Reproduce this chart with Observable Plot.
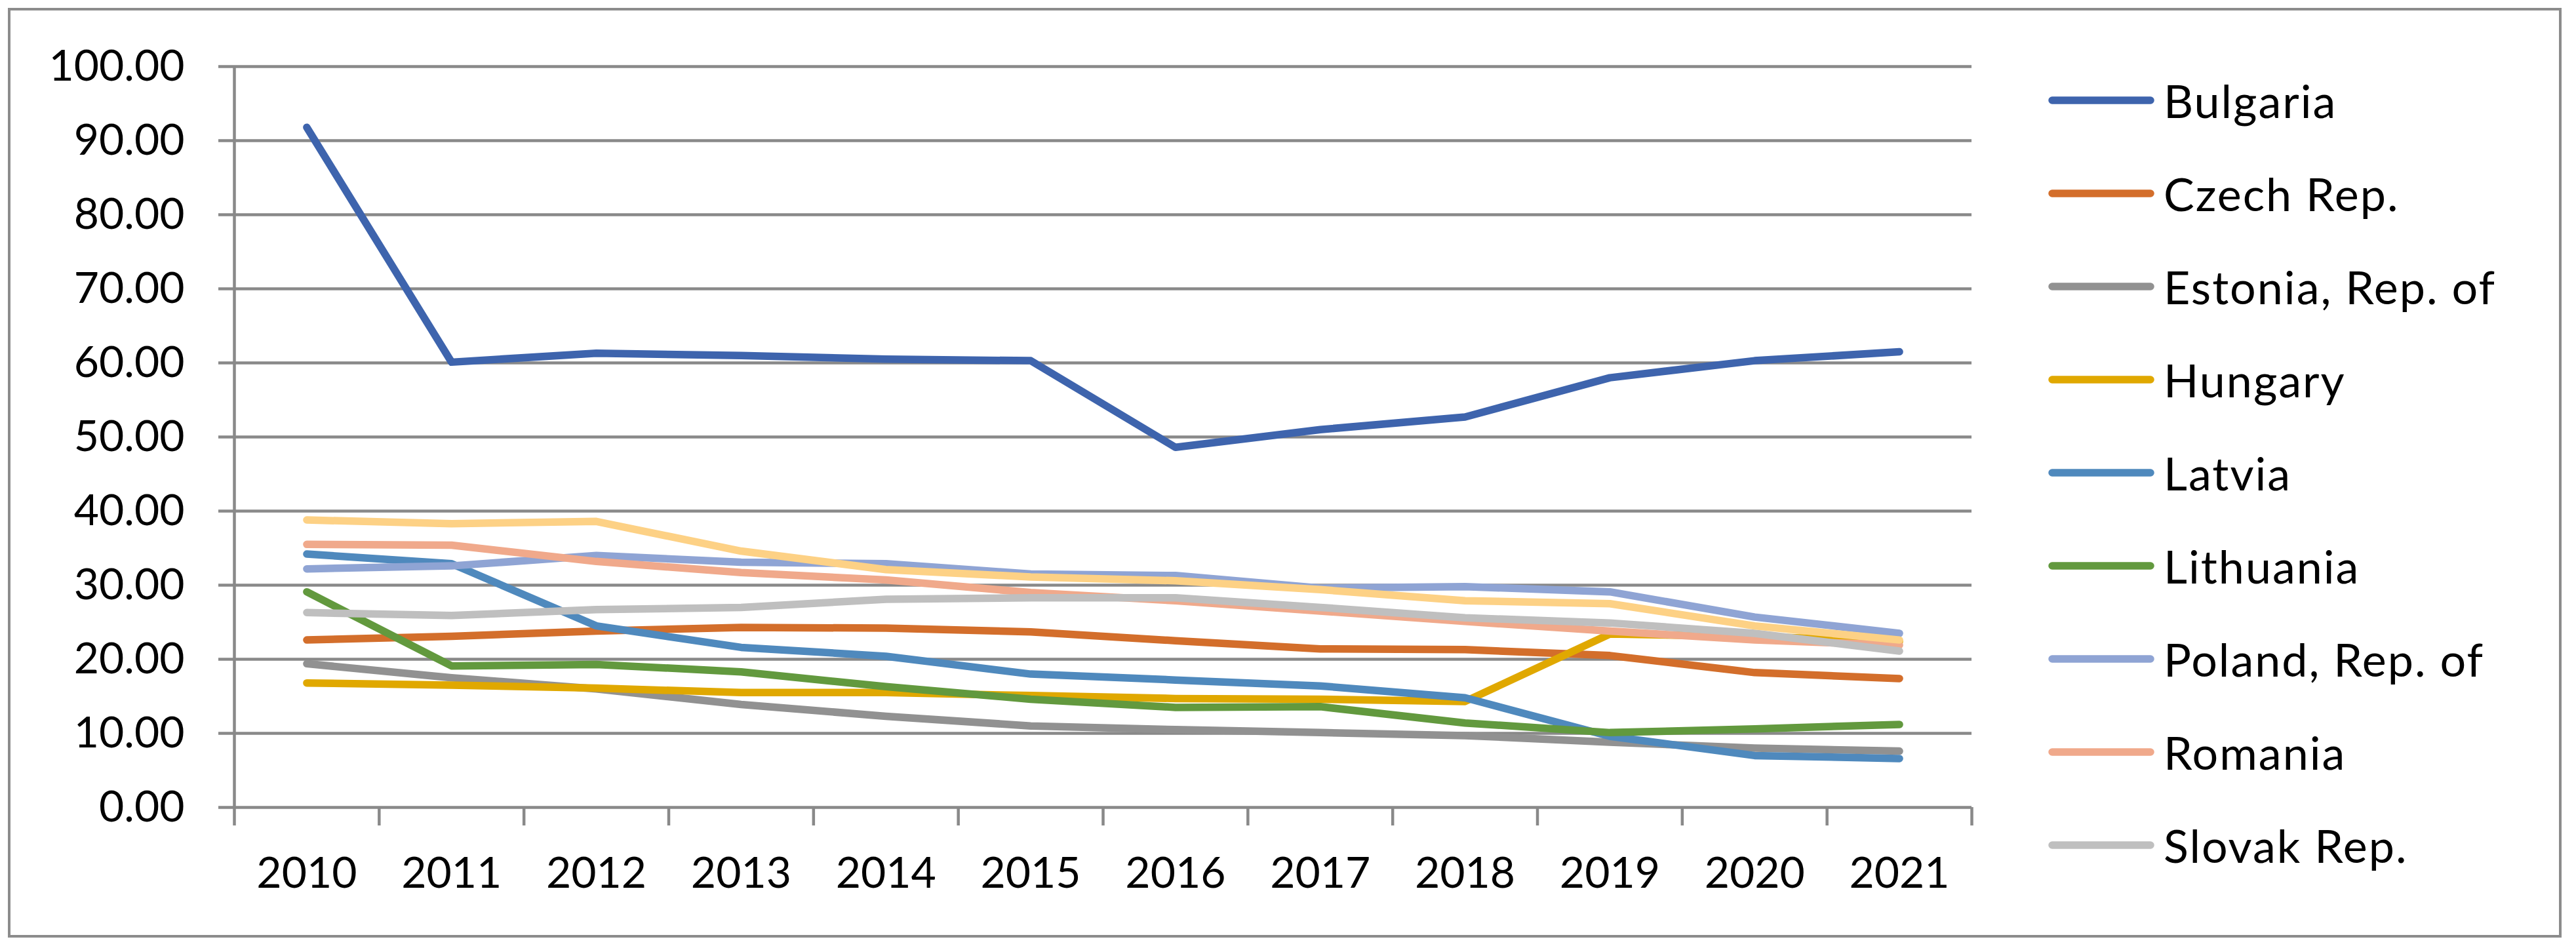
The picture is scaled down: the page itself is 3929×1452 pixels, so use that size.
<!DOCTYPE html>
<html>
<head>
<meta charset="utf-8">
<script src="https://cdn.jsdelivr.net/npm/d3@7"></script>
<script src="https://cdn.jsdelivr.net/npm/@observablehq/plot@0.6"></script>
<style>
  html, body { margin: 0; padding: 0; background: #fff; }
  #wrap { position: relative; width: 3929px; height: 1452px; background: #fff; font-family: Lato, "Open Sans", sans-serif; }
  #frame { position: absolute; left: 12px; top: 12px; width: 3887px; height: 1410px; border: 4px solid #8c8c8c; box-sizing: content-box; pointer-events: none; }
  #chart { position: absolute; left: 0; top: 0; }
  #legend { position: absolute; left: 3124px; top: 82px; }
  .row { height: 142px; display: flex; align-items: center; }
  .row svg { display: block; margin-right: 14px; }
  .row span { font-size: 70px; letter-spacing: 2px; color: #000; white-space: nowrap; line-height: 1; }
</style>
</head>
<body>
<div id="wrap">
  <div id="chart"></div>
  <div id="legend"></div>
  <div id="frame"></div>
</div>
<script>
const years = [2010, 2011, 2012, 2013, 2014, 2015, 2016, 2017, 2018, 2019, 2020, 2021];
const countries = ["Bulgaria", "Czech Rep.", "Estonia, Rep. of", "Hungary", "Latvia", "Lithuania", "Poland, Rep. of", "Romania", "Slovak Rep.", "Slovenia"];
const legendCountries = ["Bulgaria", "Czech Rep.", "Estonia, Rep. of", "Hungary", "Latvia", "Lithuania", "Poland, Rep. of", "Romania", "Slovak Rep."];
const colors = ["#3e64ad", "#d36e2b", "#919191", "#e0a800", "#4f89bd", "#62993e", "#8fa4d4", "#f0a98b", "#bfbfbf", "#fdd185"];

const bulgaria  = [91.8, 60.1, 61.3, 61.0, 60.5, 60.3, 48.6, 51.0, 52.7, 58.0, 60.3, 61.5];
const czech     = [22.6, 23.1, 23.8, 24.3, 24.2, 23.7, 22.5, 21.4, 21.3, 20.5, 18.2, 17.4];
const estonia   = [19.4, 17.5, 16.0, 13.9, 12.3, 11.0, 10.5, 10.1, 9.7, 8.8, 8.0, 7.6];
const hungary   = [16.8, 16.5, 16.1, 15.5, 15.5, 15.1, 14.7, 14.6, 14.3, 23.4, 23.1, 22.4];
const latvia    = [34.2, 32.9, 24.5, 21.6, 20.4, 18.0, 17.2, 16.4, 14.8, 9.6, 7.0, 6.6];
const lithuania = [29.1, 19.1, 19.3, 18.3, 16.3, 14.6, 13.5, 13.6, 11.4, 10.1, 10.6, 11.2];
const poland    = [32.2, 32.6, 34.0, 33.1, 32.9, 31.5, 31.3, 29.6, 29.8, 29.1, 25.7, 23.5];
const romania   = [35.5, 35.4, 33.2, 31.7, 30.7, 29.0, 27.9, 26.5, 25.1, 23.8, 22.6, 21.9];
const slovak    = [26.3, 25.9, 26.7, 27.0, 28.1, 28.3, 28.3, 27.0, 25.6, 24.9, 23.5, 21.1];
const slovenia  = [38.8, 38.3, 38.6, 34.6, 32.1, 31.1, 30.6, 29.4, 27.9, 27.5, 24.5, 22.6];

const seriesValues = [bulgaria, czech, estonia, hungary, latvia, lithuania, poland, romania, slovak, slovenia];
const yTicks = [0, 10, 20, 30, 40, 50, 60, 70, 80, 90, 100];
const xBounds = [2009.5, 2010.5, 2011.5, 2012.5, 2013.5, 2014.5, 2015.5, 2016.5, 2017.5, 2018.5, 2019.5, 2020.5, 2021.5];

const rows = countries.flatMap((c, i) => seriesValues[i].map((v, j) => ({country: c, year: years[j], value: v})));

const axisGray = "#898989";
const plot = Plot.plot({
  width: 3929,
  height: 1452,
  marginLeft: 357,
  marginRight: 922,
  marginTop: 101,
  marginBottom: 221,
  style: {fontFamily: "Lato, 'Open Sans', sans-serif", fontSize: "66px", color: "#000", background: "#fff"},
  x: {domain: [2009.5, 2021.5], label: null},
  y: {domain: [0, 100], label: null},
  color: {domain: countries, range: colors},
  marks: [
    Plot.gridY(yTicks, {stroke: axisGray, strokeWidth: 4.5, strokeOpacity: 1}),
    Plot.axisY(yTicks, {tickSize: 24, tickPadding: 52, tickFormat: d3.format(".2f"), stroke: axisGray, strokeWidth: 4.5, fill: "#000", fontSize: 66, label: null}),
    Plot.ruleX([2009.5], {stroke: axisGray, strokeWidth: 4.5}),
    Plot.axisX(xBounds, {tickSize: 28, tickFormat: () => "", stroke: axisGray, strokeWidth: 4.5, label: null}),
    Plot.axisX(years, {tickSize: 0, tickPadding: 76, tickFormat: d => String(d), fill: "#000", fontSize: 66, label: null}),
    Plot.line(rows, {x: "year", y: "value", z: "country", stroke: "country", strokeWidth: 11.5, strokeLinecap: "round", strokeLinejoin: "round"})
  ]
});
document.getElementById("chart").appendChild(plot);

const colorScale = plot.scale("color");
const legend = document.getElementById("legend");
legendCountries.forEach(c => {
  const row = document.createElement("div");
  row.className = "row";
  const ns = "http://www.w3.org/2000/svg";
  const svg = document.createElementNS(ns, "svg");
  svg.setAttribute("width", 162);
  svg.setAttribute("height", 14);
  const ln = document.createElementNS(ns, "line");
  ln.setAttribute("x1", 6); ln.setAttribute("x2", 156);
  ln.setAttribute("y1", 7); ln.setAttribute("y2", 7);
  ln.setAttribute("stroke", colors[countries.indexOf(c)]);
  ln.setAttribute("stroke-width", 11.5);
  ln.setAttribute("stroke-linecap", "round");
  svg.appendChild(ln);
  const sp = document.createElement("span");
  sp.textContent = c;
  row.appendChild(svg);
  row.appendChild(sp);
  legend.appendChild(row);
});
</script>
</body>
</html>
